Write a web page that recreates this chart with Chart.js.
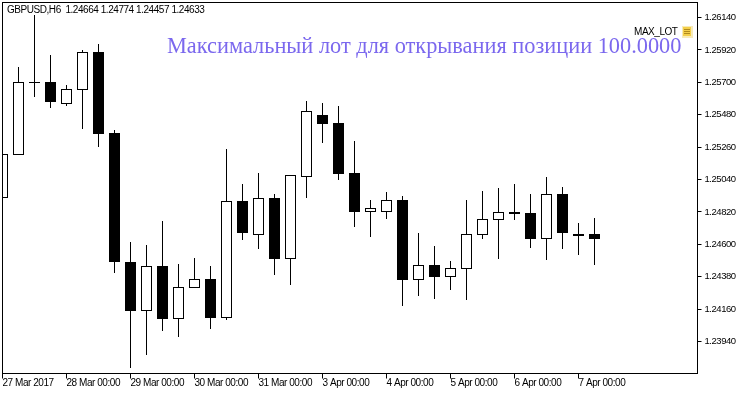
<!DOCTYPE html>
<html>
<head>
<meta charset="utf-8">
<title>GBPUSD,H6</title>
<script src="https://cdn.jsdelivr.net/npm/chart.js@4"></script>
<style>
  html, body { margin: 0; padding: 0; background: #fff; }
  canvas { display: block; }
</style>
</head>
<body>
<canvas id="priceChart" width="750" height="394"></canvas>
<script>
// Candle values, oldest first, one entry per H6 bar
var opens = [1.24911, 1.25203, 1.25699, 1.25699, 1.25549, 1.25644, 1.25902, 1.25352, 1.24476, 1.24144,
  1.24449, 1.24089, 1.24300, 1.24361, 1.24096, 1.24891, 1.24660, 1.24911, 1.24497, 1.25053,
  1.25475, 1.25420, 1.25081, 1.24816, 1.24816, 1.24897, 1.24354, 1.24456, 1.24374, 1.24429,
  1.24660, 1.24761, 1.24816, 1.24809, 1.24633, 1.24938, 1.24667, 1.24664];
var closes = [1.25210, 1.25699, 1.25699, 1.25563, 1.25651, 1.25902, 1.25346, 1.24476, 1.24144, 1.24449,
  1.24089, 1.24307, 1.24361, 1.24096, 1.24891, 1.24673, 1.24911, 1.24497, 1.25067, 1.25502,
  1.25413, 1.25074, 1.24816, 1.24843, 1.24897, 1.24354, 1.24456, 1.24375, 1.24436, 1.24667,
  1.24768, 1.24816, 1.24802, 1.24633, 1.24938, 1.24673, 1.24653, 1.24633];
var highs = [1.25210, 1.25800, 1.26154, 1.25882, 1.25678, 1.25916, 1.25957, 1.25373, 1.24612, 1.24592,
  1.24755, 1.24463, 1.24504, 1.24449, 1.25244, 1.25006, 1.25081, 1.24938, 1.25067, 1.25570,
  1.25556, 1.25536, 1.25298, 1.24897, 1.24952, 1.24925, 1.24673, 1.24585, 1.24483, 1.24897,
  1.24959, 1.24979, 1.25006, 1.24938, 1.25054, 1.24986, 1.24741, 1.24774];
var lows = [1.24911, 1.25203, 1.25597, 1.25522, 1.25536, 1.25379, 1.25257, 1.24402, 1.23757, 1.23845,
  1.24008, 1.23967, 1.24300, 1.24022, 1.24083, 1.24626, 1.24565, 1.24388, 1.24320, 1.24911,
  1.25284, 1.25033, 1.24714, 1.24646, 1.24768, 1.24178, 1.24246, 1.24225, 1.24286, 1.24218,
  1.24633, 1.24497, 1.24762, 1.24571, 1.24490, 1.24565, 1.24524, 1.24457];
var priceTicks = [1.26140, 1.25920, 1.25700, 1.25480, 1.25260, 1.25040, 1.24820, 1.24600, 1.24380, 1.24160, 1.23940];
var timeTicks = [0, 4, 8, 12, 16, 20, 24, 28, 32, 36];
var timeLabels = ["27 Mar 2017", "28 Mar 00:00", "29 Mar 00:00", "30 Mar 00:00", "31 Mar 00:00",
  "3 Apr 00:00", "4 Apr 00:00", "5 Apr 00:00", "6 Apr 00:00", "7 Apr 00:00"];

var headerText = "GBPUSD,H6  1.24664 1.24774 1.24457 1.24633";
var titleText = "Максимальный лот для открывания позиции 100.0000";
var lotLabel = "MAX_LOT";

var uiFont = '10px "Liberation Sans"';

// Snap bars to whole pixel rows so they stay sharp like the terminal chart
var snapBars = {
  id: "snapBars",
  beforeDatasetsDraw: function (chart) {
    chart.getSortedVisibleDatasetMetas().forEach(function (meta) {
      meta.data.forEach(function (bar) {
        var top = Math.floor(Math.min(bar.y, bar.base));
        var bottom = Math.floor(Math.max(bar.y, bar.base));
        bar.y = top;
        bar.base = Math.max(top + 1, bottom);
      });
    });
  },
};

// Frame on all four sides, header text, title and the label with its icon
var overlay = {
  id: "overlay",
  beforeDraw: function (chart) {
    // the terminal font is narrower than anything installed
    chart.ctx.letterSpacing = "-0.45px";
  },
  afterDraw: function (chart) {
    var ctx = chart.ctx;
    var area = chart.chartArea;
    ctx.save();
    ctx.strokeStyle = "#000";
    ctx.lineWidth = 1;
    ctx.strokeRect(area.left, area.top, area.right - area.left, area.bottom - area.top);

    ctx.textBaseline = "alphabetic";
    ctx.textAlign = "left";
    ctx.fillStyle = "#000";
    ctx.font = uiFont;
    ctx.fillText(headerText, 7, 13);
    ctx.fillText(lotLabel, 634, 35);

    ctx.letterSpacing = "0px";
    ctx.font = '22.35px "Liberation Serif"';
    ctx.fillStyle = "#7B68EE";
    ctx.fillText(titleText, 167, 53);

    // note icon
    ctx.fillStyle = "#F8EBB8";
    ctx.fillRect(682, 26, 11, 12);
    ctx.fillStyle = "#F4CF4A";
    ctx.fillRect(683, 27, 8, 9);
    ctx.fillStyle = "#B08A1E";
    ctx.fillRect(684, 29, 6, 1);
    ctx.fillRect(684, 31, 6, 1);
    ctx.fillRect(684, 33, 6, 1);
    ctx.restore();
  },
};

var bodyData = opens.map(function (open, i) {
  return { x: i, y: [open, closes[i]] };
});
var wickData = highs.map(function (high, i) {
  return { x: i, y: [lows[i], high] };
});

var ctx = document.getElementById("priceChart").getContext("2d");

var priceChart = new Chart(ctx, {
  type: "bar",
  data: {
    datasets: [
      {
        label: "Body",
        data: bodyData,
        barThickness: 11,
        grouped: false,
        borderWidth: 1,
        borderSkipped: false,
        inflateAmount: 0,
        borderColor: "#000",
        backgroundColor: function (c) {
          return closes[c.dataIndex] < opens[c.dataIndex] ? "#000" : "#fff";
        },
      },
      {
        label: "Wick",
        data: wickData,
        barThickness: 1,
        grouped: false,
        borderWidth: 0,
        inflateAmount: 0,
        backgroundColor: "#000",
      },
    ],
  },
  options: {
    responsive: false,
    animation: false,
    layout: { padding: { left: 2.5, top: 2.5, right: 0, bottom: 0 } },
    plugins: { legend: { display: false }, tooltip: { enabled: false } },
    scales: {
      x: {
        type: "linear",
        offset: false,
        min: 0,
        max: 43.4375,
        grid: { drawOnChartArea: false, tickLength: 5, tickColor: "#000", offset: false },
        border: { color: "#000" },
        afterFit: function (scale) {
          scale.height = 20.5;
          scale.paddingLeft = 0;
          scale.paddingRight = 0;
        },
        afterBuildTicks: function (scale) {
          scale.ticks = timeTicks.map(function (v) {
            return { value: v };
          });
        },
        ticks: {
          autoSkip: false,
          maxRotation: 0,
          align: "start",
          padding: -1,
          color: "#000",
          font: { family: "Liberation Sans", size: 10 },
          callback: function (value) {
            return timeLabels[timeTicks.indexOf(value)];
          },
        },
      },
      y: {
        position: "right",
        min: 1.237227,
        max: 1.262419,
        grid: { drawOnChartArea: false, tickLength: 4, tickColor: "#000" },
        border: { color: "#000" },
        afterFit: function (scale) {
          scale.width = 52.5;
          scale.paddingTop = 0;
          scale.paddingBottom = 0;
        },
        afterBuildTicks: function (scale) {
          scale.ticks = priceTicks.map(function (v) {
            return { value: v };
          });
        },
        ticks: {
          autoSkip: false,
          padding: 3,
          color: "#000",
          font: { family: "Liberation Sans", size: 9.5 },
          callback: function (value) {
            return value.toFixed(5);
          },
        },
      },
    },
  },
  plugins: [snapBars, overlay],
});
</script>
</body>
</html>
